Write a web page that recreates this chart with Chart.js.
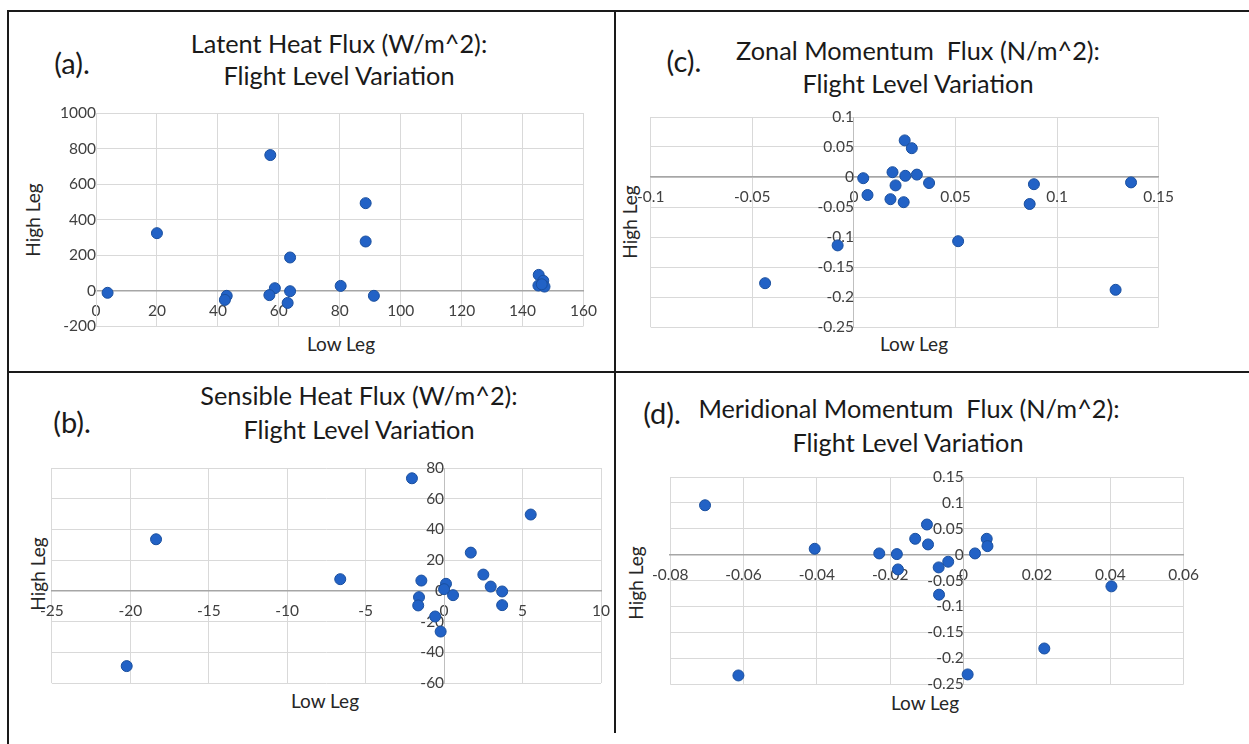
<!DOCTYPE html>
<html lang="en">
<head>
    <meta charset="utf-8">
    <title>Flight Level Variation</title>
    <script src="https://cdn.jsdelivr.net/npm/chart.js@4.4.1/dist/chart.umd.min.js"></script>
    <style>
        * {
            margin: 0;
            padding: 0;
            box-sizing: border-box;
        }
        body {
            width: 1249px;
            height: 744px;
            background: #ffffff;
            font-family: "Lato", sans-serif;
            overflow: hidden;
        }
        #page {
            position: relative;
            width: 1249px;
            height: 744px;
        }
        .line {
            position: absolute;
            background: #1a1a1a;
        }
        .txt {
            position: absolute;
            transform: translate(-50%, -50%);
            white-space: pre;
            color: #1a1a1a;
        }
        .panel-label {
            font-size: 29px;
        }
        .title {
            font-size: 25.3px;
        }
        .axis-title {
            font-size: 19px;
            color: #262626;
        }
        .rot {
            transform: translate(-50%, -50%) rotate(-90deg);
        }
        canvas {
            position: absolute;
        }
    </style>
</head>
<body>
<div id="page">
    <!-- frame -->
    <div class="line" style="left:7px; top:10px; width:1242px; height:2px;"></div>
    <div class="line" style="left:7px; top:10px; width:2px; height:734px;"></div>
    <div class="line" style="left:614px; top:10px; width:2px; height:723px;"></div>
    <div class="line" style="left:7px; top:371px; width:1242px; height:2px;"></div>

    <!-- (a) -->
    <div class="txt panel-label" style="left:72px; top:62px;">(a).</div>
    <div class="txt title" style="left:339px; top:43px;">Latent Heat Flux (W/m^2):</div>
    <div class="txt title" style="left:339px; top:75px;">Flight Level Variation</div>
    <div class="txt axis-title rot" style="left:32px; top:220px;">High Leg</div>
    <div class="txt axis-title" style="left:341px; top:343px;">Low Leg</div>
    <canvas id="chartA"></canvas>

    <!-- (c) -->
    <div class="txt panel-label" style="left:684px; top:60px;">(c).</div>
    <div class="txt title" style="left:918px; top:50px;">Zonal Momentum  Flux (N/m^2):</div>
    <div class="txt title" style="left:918px; top:83px;">Flight Level Variation</div>
    <div class="txt axis-title rot" style="left:629px; top:222px;">High Leg</div>
    <div class="txt axis-title" style="left:914px; top:343px;">Low Leg</div>
    <canvas id="chartC"></canvas>

    <!-- (b) -->
    <div class="txt panel-label" style="left:72px; top:421px;">(b).</div>
    <div class="txt title" style="left:359px; top:395px;">Sensible Heat Flux (W/m^2):</div>
    <div class="txt title" style="left:359px; top:429px;">Flight Level Variation</div>
    <div class="txt axis-title rot" style="left:37px; top:574px;">High Leg</div>
    <div class="txt axis-title" style="left:325px; top:700px;">Low Leg</div>
    <canvas id="chartB"></canvas>

    <!-- (d) -->
    <div class="txt panel-label" style="left:662px; top:412px;">(d).</div>
    <div class="txt title" style="left:909px; top:408px;">Meridional Momentum  Flux (N/m^2):</div>
    <div class="txt title" style="left:908px; top:442px;">Flight Level Variation</div>
    <div class="txt axis-title rot" style="left:635px; top:583px;">High Leg</div>
    <div class="txt axis-title" style="left:925px; top:702px;">Low Leg</div>
    <canvas id="chartD"></canvas>
</div>

<script>
    // (a) Latent heat flux (W/m^2)
    const latentLow  = [3.8, 20, 57.2, 88.5, 88.5, 63.7, 58.7, 56.9, 63.7, 62.9, 42.9, 42.3, 80.3, 91.2, 145.3, 146.8, 145.2, 147.2, 146.3];
    const latentHigh = [-13, 323, 763, 492, 276, 186, 13, -26, -4, -70, -30, -53, 26, -30, 88, 55, 28, 22, 35];

    // (b) Sensible heat flux (W/m^2)
    const sensibleLow  = [-2.05, 5.52, -18.36, -6.62, -20.23, 1.70, 2.50, 2.97, 3.70, 3.70, -1.45, -1.60, -1.65, 0.12, 0.0, 0.57, -0.57, -0.22];
    const sensibleHigh = [73.3, 49.7, 33.6, 7.6, -49.0, 24.9, 10.6, 2.8, -0.4, -9.3, 6.7, -4.1, -9.5, 4.6, 1.1, -2.8, -16.7, -26.5];

    // (c) Zonal momentum flux (N/m^2)
    const zonalLow  = [0.0046, 0.0067, 0.019, 0.0205, 0.018, 0.025, 0.0285, 0.0253, 0.0245, 0.031, 0.037, -0.008, -0.0437, 0.0513, 0.0886, 0.0865, 0.1364, 0.1288];
    const zonalHigh = [-0.002, -0.030, 0.008, -0.014, -0.037, 0.061, 0.048, 0.002, -0.042, 0.004, -0.010, -0.114, -0.177, -0.107, -0.012, -0.045, -0.009, -0.188];

    // (d) Meridional momentum flux (N/m^2)
    const meridLow  = [-0.0705, -0.0614, -0.0406, -0.0230, -0.0182, -0.0179, -0.0132, -0.0100, -0.0097, -0.0068, -0.0042, -0.0067, 0.0031, 0.0063, 0.0065, 0.0403, 0.0220, 0.0011];
    const meridHigh = [0.0954, -0.2335, 0.0113, 0.0023, 0.001, -0.0286, 0.0306, 0.0582, 0.0197, -0.0247, -0.0137, -0.0774, 0.0023, 0.0306, 0.0164, -0.0613, -0.1814, -0.2315];

    // axis ranges: [min, max, step]
    const latentX   = [0, 160, 20];
    const latentY   = [-200, 1000, 200];
    const sensibleX = [-25, 10, 5];
    const sensibleY = [-60, 80, 20];
    const zonalX    = [-0.1, 0.15, 0.05];
    const zonalY    = [-0.25, 0.1, 0.05];
    const meridX    = [-0.08, 0.06, 0.02];
    const meridY    = [-0.25, 0.15, 0.05];

    const gridColor = "#d9d9d9";
    const zeroColor = "#a6a6a6";
    const tickColor = "#404040";

    const fmt = (v) => String(+(+v).toFixed(4));

    function toPoints(xs, ys) {
        return xs.map((x, i) => ({ x: x, y: ys[i] }));
    }

    function makeAxis(range, posAxis, isX, lineColor) {
        return {
            type: "linear",
            position: posAxis,
            min: range[0],
            max: range[1],
            ticks: {
                stepSize: range[2],
                color: tickColor,
                font: { family: "Lato", size: 15.5 },
                padding: isX ? 11 : 10,
                autoSkip: false,
                maxRotation: 0,
                callback: fmt,
            },
            grid: { color: gridColor, lineWidth: 1, drawTicks: false },
            border: { display: true, color: lineColor, width: isX ? 1.5 : 1 },
        };
    }

    // plot: [left, top, right, bottom] of the plot area on the page
    function drawPanel(id, plot, pad, xs, ys, xr, yr, yLineColor) {
        const canvas = document.getElementById(id);
        const w = plot[2] - plot[0] + pad[0] + pad[2];
        const h = plot[3] - plot[1] + pad[1] + pad[3];
        canvas.width = w;
        canvas.height = h;
        canvas.style.width = w + "px";
        canvas.style.height = h + "px";
        canvas.style.left = (plot[0] - pad[0]) + "px";
        canvas.style.top = (plot[1] - pad[1]) + "px";

        new Chart(canvas, {
            type: "scatter",
            data: {
                datasets: [{
                    data: toPoints(xs, ys),
                    backgroundColor: "#2262c6",
                    borderColor: "#1a4f9e",
                    borderWidth: 1,
                    pointRadius: 5.5,
                }],
            },
            options: {
                responsive: false,
                animation: false,
                layout: { padding: { left: pad[0], top: pad[1], right: pad[2], bottom: pad[3] } },
                plugins: {
                    legend: { display: false },
                    tooltip: { enabled: false },
                },
                scales: {
                    x: makeAxis(xr, { y: 0 }, true, zeroColor),
                    y: makeAxis(yr, { x: 0 }, false, yLineColor),
                },
            },
        });
    }

    drawPanel("chartA", [96, 113, 586, 326], [58, 20, 22, 20], latentLow, latentHigh, latentX, latentY, gridColor);
    drawPanel("chartC", [648, 117, 1163, 327], [22, 20, 22, 22], zonalLow, zonalHigh, zonalX, zonalY, "#bfbfbf");
    drawPanel("chartB", [51, 468, 601, 683], [22, 20, 22, 22], sensibleLow, sensibleHigh, sensibleX, sensibleY, "#bfbfbf");
    drawPanel("chartD", [663, 477, 1188, 684], [22, 20, 22, 22], meridLow, meridHigh, meridX, meridY, "#bfbfbf");
</script>
</body>
</html>
